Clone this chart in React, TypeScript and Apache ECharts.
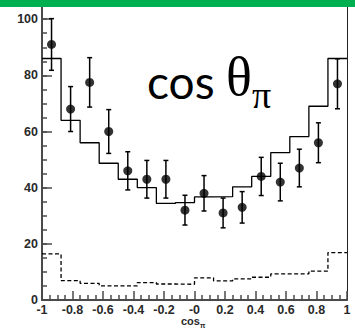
import React, { useEffect, useRef } from "react";
import * as echarts from "echarts";

// ---- data ----
const binCenters = [-0.9375, -0.8125, -0.6875, -0.5625, -0.4375, -0.3125, -0.1875, -0.0625, 0.0625, 0.1875, 0.3125, 0.4375, 0.5625, 0.6875, 0.8125, 0.9375];
const binWidth = 0.125;
const dataValues = [91, 68, 77.5, 60, 46, 43, 43, 32, 38, 31, 33, 44, 42, 47, 56, 77];
const dataErrors = [9.2, 8, 8.8, 7.8, 6.8, 6.7, 6.7, 5.3, 6.3, 5.3, 5.6, 6.8, 6.7, 6.7, 7.1, 8.9];
const mcValues = [86, 64, 56, 48.7, 43, 40, 34.4, 34.7, 36.7, 36.8, 40.3, 44, 52.5, 58.2, 69, 86];
const bgValues = [16.4, 6.9, 5.9, 5.0, 5.0, 6.2, 5.7, 5.6, 7.9, 6.8, 7.5, 8.1, 9.3, 9.3, 10.3, 16.9];
const xTickLabels = ["-1", "-0.8", "-0.6", "-0.4", "-0.2", "-0", "0.2", "0.4", "0.6", "0.8", "1"];
const yTickLabels = ["0", "20", "40", "60", "80", "100"];

function stepPoints(vals: number[]) {
  const pts: number[][] = [];
  vals.forEach((v, i) => {
    pts.push([binCenters[i] - binWidth / 2, v]);
    pts.push([binCenters[i] + binWidth / 2, v]);
  });
  return pts;
}

export default function App() {
  const ref = useRef<HTMLDivElement>(null);
  useEffect(() => {
    if (!ref.current) return;
    const chart = echarts.init(ref.current, null, { renderer: "svg" });
    const axisColor = "#4a4a4a";
    const labelFont = { color: "#2a2a2a", fontWeight: "bold" as const, fontSize: 12.5, fontFamily: "Liberation Sans, Arial, sans-serif" };
    const yMax = 104.7;
    chart.setOption({
      animation: false,
      backgroundColor: "#fff",
      grid: { left: 42, right: 8, top: 6, bottom: 32, containLabel: false },
      xAxis: {
        type: "value",
        min: -1,
        max: 1,
        interval: 0.2,
        axisLine: { show: true, onZero: false, lineStyle: { color: axisColor, width: 2 } },
        axisTick: { show: true, inside: true, length: 9, lineStyle: { color: axisColor, width: 1.5 } },
        minorTick: { show: true, splitNumber: 4, length: 5, lineStyle: { color: axisColor, width: 1.5 } },
        splitLine: { show: false },
        axisLabel: {
          ...labelFont,
          margin: 3,
          formatter: (v: number) => {
            const i = Math.round((v + 1) / 0.2);
            return Math.abs(v - (-1 + i * 0.2)) < 1e-6 ? xTickLabels[i] ?? "" : "";
          },
        },
      },
      yAxis: [
        {
          type: "value",
          position: "left",
          min: 0,
          max: yMax,
          interval: 5,
          axisLine: { show: true, onZero: false, lineStyle: { color: axisColor, width: 2 } },
          axisTick: { show: true, inside: true, length: 5, lineStyle: { color: axisColor, width: 1.5 } },
          splitLine: { show: false },
          axisLabel: {
            ...labelFont,
            margin: 4,
            formatter: (v: number) => (Math.abs(v % 20) < 1e-6 && v <= 100 ? yTickLabels[Math.round(v / 20)] : ""),
          },
        },
        {
          type: "value",
          position: "left",
          min: 0,
          max: yMax,
          interval: 20,
          axisLine: { show: false, onZero: false },
          axisTick: { show: true, inside: true, length: 10, lineStyle: { color: axisColor, width: 1.5 } },
          axisLabel: { show: false },
          splitLine: { show: false },
        },
        {
          type: "value",
          position: "right",
          min: 0,
          max: yMax,
          interval: 20,
          axisLine: { show: true, onZero: false, lineStyle: { color: "#222", width: 1 } },
          axisTick: { show: false },
          axisLabel: { show: false },
          splitLine: { show: false },
        },
      ],
      graphic: [
        { type: "rect", shape: { x: 0, y: 0, width: 355, height: 7 }, style: { fill: "#00b050" }, z: 100 },
        {
          type: "text",
          x: 147,
          y: 81,
          style: { text: "cos", font: "46px Lato, 'Open Sans', sans-serif", fill: "#000", verticalAlign: "middle" },
          z: 50,
        },
        {
          type: "text",
          x: 226,
          y: 77,
          style: { text: "θ", font: "54px 'Liberation Serif', serif", fill: "#000", verticalAlign: "middle" },
          z: 50,
        },
        {
          type: "text",
          x: 252,
          y: 95,
          style: { text: "π", font: "38px 'Liberation Serif', serif", fill: "#000", verticalAlign: "middle" },
          z: 50,
        },
        {
          type: "text",
          x: 181,
          y: 321,
          style: {
            text: "{a|cos}{b|π}",
            verticalAlign: "middle",
            rich: {
              a: { font: "bold 11px 'Liberation Sans', Arial, sans-serif", fill: "#2a2a2a" },
              b: { font: "bold 7px 'Liberation Sans', Arial, sans-serif", fill: "#2a2a2a", padding: [8, 0, 0, 0] },
            },
          },
          z: 50,
        },
      ],
      series: [
        {
          type: "line",
          yAxisIndex: 0,
          data: stepPoints(mcValues),
          showSymbol: false,
          symbol: "none",
          lineStyle: { color: "#000", width: 1.3 },
          z: 3,
        },
        {
          type: "line",
          yAxisIndex: 0,
          data: stepPoints(bgValues),
          showSymbol: false,
          symbol: "none",
          lineStyle: { color: "#000", width: 1.3, type: [4, 2.5] },
          z: 3,
        },
        {
          type: "custom",
          yAxisIndex: 0,
          data: binCenters.map((c, i) => [c, dataValues[i] - dataErrors[i], dataValues[i] + dataErrors[i]]),
          renderItem: (params: any, api: any) => {
            const lo = api.coord([api.value(0), api.value(1)]);
            const hi = api.coord([api.value(0), api.value(2)]);
            const w = 2.5;
            const st = { stroke: "#000", lineWidth: 1.5 };
            return {
              type: "group",
              children: [
                { type: "line", shape: { x1: lo[0], y1: lo[1], x2: hi[0], y2: hi[1] }, style: st },
                { type: "line", shape: { x1: lo[0] - w, y1: lo[1], x2: lo[0] + w, y2: lo[1] }, style: st },
                { type: "line", shape: { x1: hi[0] - w, y1: hi[1], x2: hi[0] + w, y2: hi[1] }, style: st },
              ],
            };
          },
          z: 4,
        },
        {
          type: "scatter",
          yAxisIndex: 0,
          data: binCenters.map((c, i) => [c, dataValues[i]]),
          symbol: "circle",
          symbolSize: 9,
          itemStyle: { color: "#000" },
          z: 5,
        },
      ],
    });
    return () => chart.dispose();
  }, []);
  return <div ref={ref} style={{ position: "fixed", left: 0, top: 0, width: 355, height: 332 }} />;
}
